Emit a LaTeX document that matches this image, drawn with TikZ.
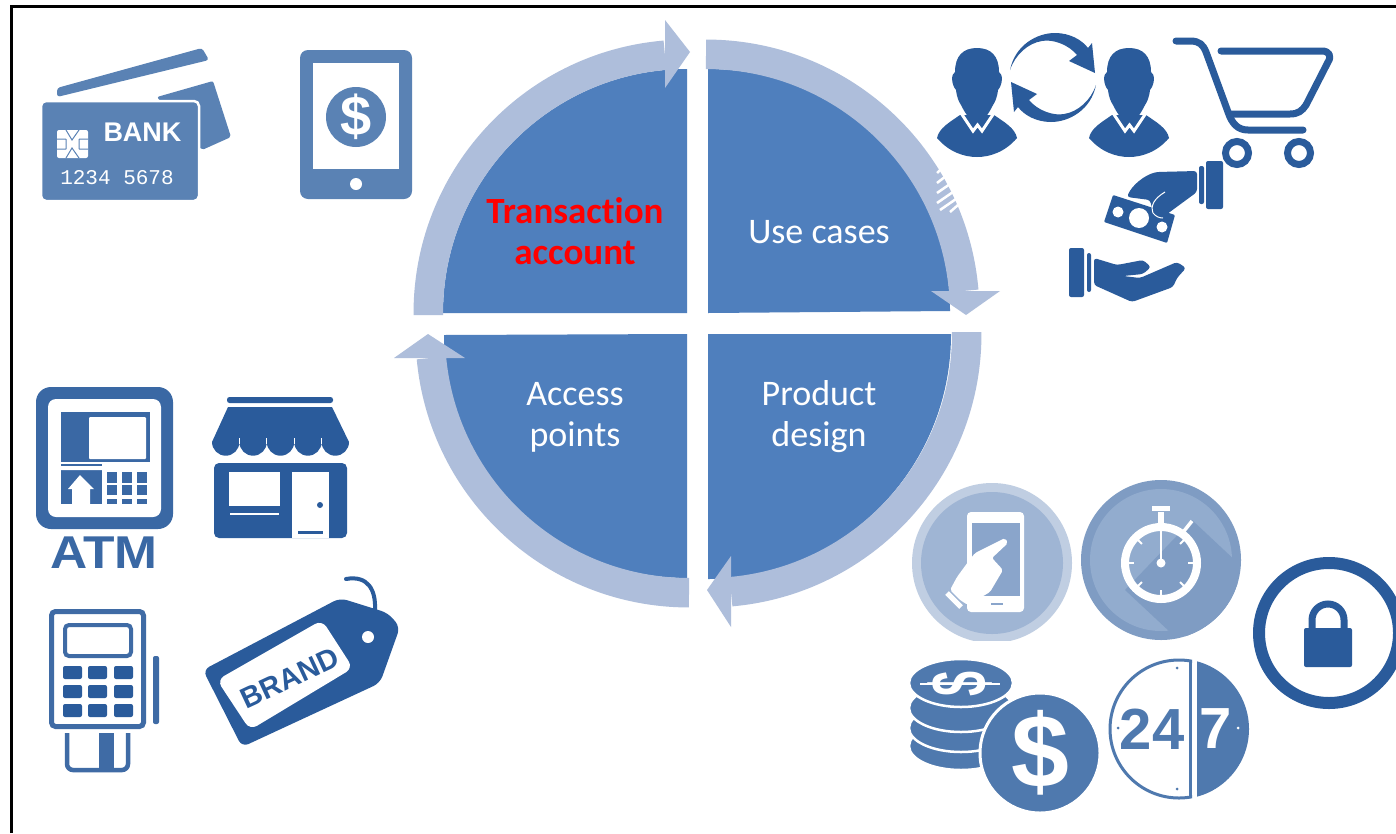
\documentclass[tikz,border=0pt]{standalone}
\usepackage{fontspec}
\setmainfont[Ligatures=NoCommon]{Carlito}
\newfontfamily\iconfont{Liberation Sans}
\newfontfamily\digitfont{Liberation Mono}
\definecolor{quadblue}{HTML}{4F7FBD}
\definecolor{ringblue}{HTML}{AEBEDB}
\definecolor{darkicon}{HTML}{2A5B9B}
\definecolor{atmicon}{HTML}{3A68A4}
\definecolor{midicon}{HTML}{5A82B4}
\definecolor{softicon}{HTML}{4F79AE}
\definecolor{phonering}{HTML}{C0CEE2}
\definecolor{phonedisc}{HTML}{9FB5D4}
\definecolor{phonescreen}{HTML}{8AA5CB}
\definecolor{watchdark}{HTML}{7F9CC3}
\definecolor{watchlight}{HTML}{92ACCE}
\tikzset{
  quadrant/.style={fill=quadblue},
  ringline/.style={draw=ringblue,line width=29.5pt},
  ringtip/.style={fill=ringblue},
  quadtext/.style={text=white,align=center,font=\fontsize{36}{41}\selectfont},
  boldtext/.style={font=\iconfont\bfseries,inner sep=0pt},
  keycell/.style={fill=darkicon,rounded corners=2pt},
}
\begin{document}
\begin{tikzpicture}[x=1pt,y=1pt]
    \useasboundingbox (0,0) rectangle (1396,-833);
    \fill[white] (0,0) rectangle (1396,-833);
    \draw[line width=3pt] (11,-833) -- (11,-6) -- (1396,-6); % frame

    % quadrants
    \fill[quadrant] (687,-313) -- (443,-313) arc (180:90:244) -- cycle;
    \fill[quadrant] (708,-313) -- (708,-69) arc (90:0:242) -- cycle;
    \fill[quadrant] (708,-334) -- (951,-334) arc (0:-90:243 and 245) -- cycle;
    \fill[quadrant] (687,-334) -- (687,-578) arc (270:180:243) -- cycle;

    % rings with arrow tips
    \draw[ringline] (428.3,-315) -- (428.3,-313) arc (180:94.9:258.7);
    \fill[ringtip] (665,-20) -- (690,-52) -- (665,-88) -- cycle;
    \draw[ringline] (706,-54.3) arc (90:4.9:258.7);
    \fill[ringtip] (931,-291) -- (1000,-291) -- (966,-315) -- cycle;
    \draw[ringline] (966.7,-332) -- (966.7,-334) arc (0:-84.9:258.7);
    \fill[ringtip] (731,-556) -- (707,-590) -- (731,-627) -- cycle;
    \draw[ringline] (689,-592.7) arc (270:185.3:258.7);
    \fill[ringtip] (394,-358) -- (428,-334) -- (465,-358) -- cycle;
    \draw[white,line width=2.5pt] (937,-173) -- (941,-169) (937,-183) -- (946,-176) (937,-193) -- (950,-184)
          (937,-203) -- (953,-192) (940,-210) -- (956,-199) (950,-212) -- (958,-205); % stripes

    \node[quadtext,font=\fontsize{37}{41}\selectfont\bfseries,text=red] (account) at (575,-231) {Transaction\\account};
    \node[quadtext] (usecases) at (819,-232) {Use cases};
    \node[quadtext] (accesspoints) at (575,-417) {Access\\points};
    \node[quadtext] (productdesign) at (819,-417) {Product\\design};

    % bank cards
    \fill[midicon,rounded corners=3pt] (57,-88) -- (202,-48) -- (209,-60) -- (57,-97) -- cycle;
    \fill[midicon,rounded corners=2pt] (157,-97) -- (213,-81) -- (231,-137) -- (202,-150) -- cycle;
    \fill[midicon,draw=white,line width=2.5pt,rounded corners=5pt] (41,-101) rectangle (199,-201);
    \fill[white,rounded corners=2pt] (57,-130) rectangle (88,-158); % chip
    \draw[midicon,line width=1pt] (57,-139) -- (66,-139) (57,-149) -- (66,-149) (79,-139) -- (88,-139) (79,-149) -- (88,-149)
          (66,-130) -- (72,-140) -- (79,-130) (66,-158) -- (72,-148) -- (79,-158) (66,-139) -- (66,-149) (79,-139) -- (79,-149);
    \node[boldtext,text=white,font=\iconfont\bfseries\fontsize{27}{27}\selectfont] (bank) at (142.5,-132) {BANK};
    \node[inner sep=0pt,text=white,font=\digitfont\fontsize{21}{21}\selectfont] (cardnumber) at (117,-178) {1234 5678};

    % tablet
    \fill[midicon,rounded corners=8pt] (300,-50) rectangle (412,-199);
    \fill[white] (313,-63) rectangle (399,-169);
    \fill[midicon] (356,-117) circle (30);
    \fill[white] (356,-184) circle (6);
    \node[boldtext,text=white,font=\iconfont\bfseries\fontsize{56}{56}\selectfont] (tabletdollar) at (356,-117) {\$};

    % two persons
    \foreach \px in {0,152} {
      \begin{scope}[xshift=\px pt]
        \fill[darkicon] (937,-138) .. controls (939,-128) and (950,-122) .. (960,-115) -- (994,-115)
              .. controls (1004,-122) and (1015,-128) .. (1017,-138) .. controls (1005,-152) and (990,-157) .. (977,-157)
              .. controls (964,-157) and (949,-152) .. (937,-138) -- cycle;
        \draw[white,line width=3pt] (961,-113) -- (973,-131) -- (977.5,-125) -- (982,-131) -- (994,-113);
        \fill[darkicon] (977,-48) .. controls (991,-48) and (999,-56) .. (999,-72) .. controls (1003,-74) and (1003,-84) .. (998,-90)
              .. controls (997,-98) and (995,-102) .. (993,-105) .. controls (988,-115) and (983,-122) .. (977,-122)
              .. controls (971,-122) and (966,-115) .. (961,-105) .. controls (959,-102) and (957,-98) .. (956,-90)
              .. controls (951,-84) and (951,-74) .. (955,-72) .. controls (955,-56) and (963,-48) .. (977,-48) -- cycle;
      \end{scope}
    }
    % exchange arrows
    \foreach \a in {0,180}
      \fill[darkicon,rotate around={\a:(1053,-77.5)}] (1010,-70) .. controls (1015,-45) and (1037,-33) .. (1055,-33)
            .. controls (1070,-33) and (1082,-40) .. (1088,-48) -- (1092,-43) -- (1095,-73) -- (1069,-61) -- (1077,-55)
            .. controls (1068,-44) and (1052,-39) .. (1042,-41) .. controls (1028,-43) and (1015,-55) .. (1010,-70) -- cycle;

    % cart
    \draw[darkicon,line width=7pt,line cap=round,line join=round] (1176,-41) -- (1190,-41) .. controls (1200,-41) and (1203,-45) .. (1206,-52)
          -- (1228,-112) .. controls (1232,-124) and (1238,-130) .. (1248,-130) -- (1303,-130);
    \draw[darkicon,line width=7pt,line cap=round,line join=round] (1221,-51) -- (1322,-51) .. controls (1329,-51) and (1332,-56) .. (1328,-62)
          -- (1306,-105) .. controls (1302,-111) and (1298,-114) .. (1290,-114) -- (1230,-114);
    \draw[darkicon,line width=7pt] (1237,-153) circle (11.5) (1299,-153) circle (11.5);

    % giving hand with note
    \fill[darkicon,rounded corners=2pt] (1206,-161) rectangle (1223,-209) (1199,-166) rectangle (1204,-204);
    \fill[darkicon,rounded corners=3pt] (1197,-171) -- (1157,-172) .. controls (1145,-175) and (1132,-185) .. (1127,-197)
          -- (1150,-200) -- (1153,-212) -- (1163,-217) -- (1197,-192) -- cycle;
    \fill[darkicon,rounded corners=1pt] (1113,-195) -- (1175,-215) -- (1167,-243) -- (1104,-222) -- cycle;
    \draw[white,line width=1pt] (1165,-192) .. controls (1155,-198) and (1150,-205) .. (1153,-213) .. controls (1156,-217) and (1160,-218) .. (1163,-218);
    \fill[white] (1139,-218) circle (10) (1118,-212) circle (5.5) (1162,-227) circle (5.5);

    % receiving hand
    \fill[darkicon,rounded corners=2pt] (1069,-248) rectangle (1084,-297) (1087,-253) rectangle (1091,-292);
    \fill[darkicon,rounded corners=3pt] (1094,-258) -- (1117,-265) -- (1143,-260) -- (1151,-267) -- (1143,-274) -- (1123,-276)
          -- (1140,-278) -- (1177,-262) -- (1186,-268) -- (1177,-278) -- (1173,-287) -- (1132,-302) -- (1094,-285) -- cycle;

    % ATM
    \fill[atmicon,rounded corners=15pt] (36,-387) rectangle (173,-529);
    \fill[white,rounded corners=8pt] (48,-399) rectangle (161,-517);
    \fill[atmicon] (61,-412) rectangle (150,-504);
    \fill[white,rounded corners=1pt] (89,-417) rectangle (146,-459);
    \fill[white] (61,-462) rectangle (104,-470) (102,-462) rectangle (150,-504);
    \fill[atmicon] (61,-464) rectangle (102,-466);
    \fill[white] (68,-489) -- (80,-475) -- (94,-489) -- (90,-489) -- (90,-504) -- (72,-504) -- (72,-489) -- cycle;
    \foreach \cx in {107,122,137}
      \foreach \cy/\ch in {472/11,485/10,499/5}
        \fill[atmicon] (\cx,-\cy) rectangle ++(10,-\ch);
    \node[boldtext,text=atmicon,font=\iconfont\bfseries\fontsize{46}{46}\selectfont] (atm) at (104,-553) {\scalebox{1.12}[1]{ATM}};

    % store
    \fill[darkicon,rounded corners=2.5pt] (227,-397) rectangle (333,-403);
    \fill[darkicon] (228,-407) -- (332,-407) -- (349,-442) arc (0:-180:13.7) arc (0:-180:13.7) arc (0:-180:13.7) arc (0:-180:13.7) arc (0:-180:13.7) -- cycle;
    \foreach \gx in {239.4,266.8,294.2,321.6}
      \draw[white,line width=1pt] (\gx,-444) -- (\gx,-438);
    \fill[darkicon,rounded corners=5pt] (214,-463) -- (347,-463) -- (347,-538) -- (214,-538) -- cycle;
    \fill[white] (229,-472) rectangle (280,-506);
    \draw[white,line width=2.5pt] (230,-514) -- (279,-514);
    \fill[white] (292,-472) rectangle (329,-538);
    \fill[darkicon] (320,-505) circle (3);
    \draw[darkicon,line width=3pt] (298,-532) -- (323,-532);

    % card terminal
    \draw[darkicon!90!white,line width=5pt,rounded corners=4pt] (51.5,-611.5) rectangle (143.5,-726.5);
    \draw[darkicon!90!white,line width=4pt,rounded corners=4pt] (65,-625) rectangle (131,-656);
    \foreach \cx in {63,88,114}
      \foreach \cy in {666,685,704}
        \fill[keycell] (\cx,-\cy) rectangle ++(19,-13);
    \fill[darkicon!90!white,rounded corners=2pt] (153,-656) rectangle (159,-724);
    \draw[darkicon!90!white,line width=4.5pt,rounded corners=6pt] (67,-733) -- (67,-770) -- (128,-770) -- (128,-733);
    \fill[darkicon!90!white] (99,-733) rectangle (114,-769);

    % brand tag
    \draw[darkicon,line width=4pt,line cap=round] (346,-579) .. controls (368,-575) and (376,-590) .. (375,-610);
    \fill[darkicon,rounded corners=7pt] (203,-670) -- (340,-598) -- (388,-613) -- (400,-627) -- (380,-683) -- (242,-747) -- cycle;
    \fill[white,rounded corners=8pt] (217,-680) -- (322,-620) -- (353,-668) -- (250,-730) -- cycle;
    \fill[white] (368,-637) circle (6);
    \node[boldtext,text=darkicon,rotate=25,font=\iconfont\bfseries\fontsize{29}{29}\selectfont] (brand) at (290,-678) {BRAND};

    % phone badge
    \begin{scope}
      \clip (900,-470) rectangle (1075,-640);
      \fill[phonering] (992,-563) circle (80);
      \fill[phonedisc] (992,-563) circle (71);
    \end{scope}
    \fill[white,rounded corners=4pt] (967,-512) rectangle (1024,-612);
    \fill[phonescreen] (972,-523) rectangle (1020,-596);
    \draw[phonescreen,line width=1.5pt] (991,-604) -- (1003,-604);
    \fill[white,rounded corners=2pt] (950,-590) -- (957,-577) -- (968,-562) -- (975,-553) -- (1005,-538) -- (1008,-543) -- (992,-558) -- (1003,-570) -- (990,-592) -- (968,-605) -- (960,-600) -- cycle;
    \draw[white,line width=5pt] (947,-593) -- (961,-607);

    % stopwatch badge
    \begin{scope}
      \clip (1075,-470) rectangle (1250,-640);
      \fill[watchdark] (1161,-560) circle (80);
      \clip (1161,-560) circle (80);
      \fill[watchlight] (1161,-560) circle (71);
      \fill[watchdark] (1192,-520) -- (1240,-565) -- (1235,-600) -- (1200,-640) -- (1170,-632) -- (1125,-590) -- cycle;
    \end{scope}
    \draw[white,line width=8pt] (1161,-563) circle (36);
    \draw[white,line width=6pt] (1161,-512) -- (1161,-527);
    \draw[white,line width=5pt] (1152,-508) -- (1170,-508);
    \draw[white,line width=3.5pt] (1184,-531) -- (1192,-521);
    \foreach \t in {0,45,...,315}
      \draw[white,line width=2pt] (1161,-563) ++(\t:33) -- ++(\t:-6);
    \draw[white,line width=2pt] (1161,-532) -- (1161,-563);
    \fill[white] (1161,-563) circle (4.5);

    % lock badge
    \draw[darkicon,line width=12pt] (1329,-633) circle (70);
    \fill[darkicon,rounded corners=2pt] (1304,-628) rectangle (1352,-667);
    \draw[darkicon,line width=7pt] (1312,-630) -- (1312,-620) arc (180:0:16) -- (1344,-630);

    % coins
    \foreach \cy/\ry in {746/24,728/24,708/24,683/24}
      \fill[softicon,draw=white,line width=2.5pt] (961,-\cy) ellipse (52 and \ry);
    \draw[white,line width=1.5pt] (920,-684) -- (1000,-684);
    \node[boldtext,text=white,rotate=90,font=\iconfont\bfseries\fontsize{36}{36}\selectfont] (coindollar) at (960,-684) {\scalebox{1.25}[2.2]{\$}};
    \fill[softicon,draw=white,line width=3pt] (1040,-753) circle (60);
    \node[boldtext,text=white,font=\iconfont\bfseries\fontsize{104}{104}\selectfont] (bigdollar) at (1040,-753) {\$};

    % 24/7
    \begin{scope}
      \clip (1100,-650) rectangle (1192,-810);
      \draw[softicon,line width=3pt] (1179,-729) circle (69);
    \end{scope}
    \draw[softicon,line width=3pt] (1190.5,-660) -- (1190.5,-798);
    \begin{scope}
      \clip (1197,-650) rectangle (1260,-810);
      \fill[softicon] (1179,-729) circle (70);
    \end{scope}
    \node[boldtext,text=softicon,font=\iconfont\bfseries\fontsize{58}{58}\selectfont] (twentyfour) at (1152,-729) {24};
    \node[boldtext,text=white,font=\iconfont\bfseries\fontsize{58}{58}\selectfont] (seven) at (1216,-729) {7};
    \fill[softicon] (1177,-668) circle (1.5) (1177,-789) circle (1.5) (1118,-728) circle (1.5);
    \fill[white] (1238,-728) circle (1.5);
\end{tikzpicture}
\end{document}
